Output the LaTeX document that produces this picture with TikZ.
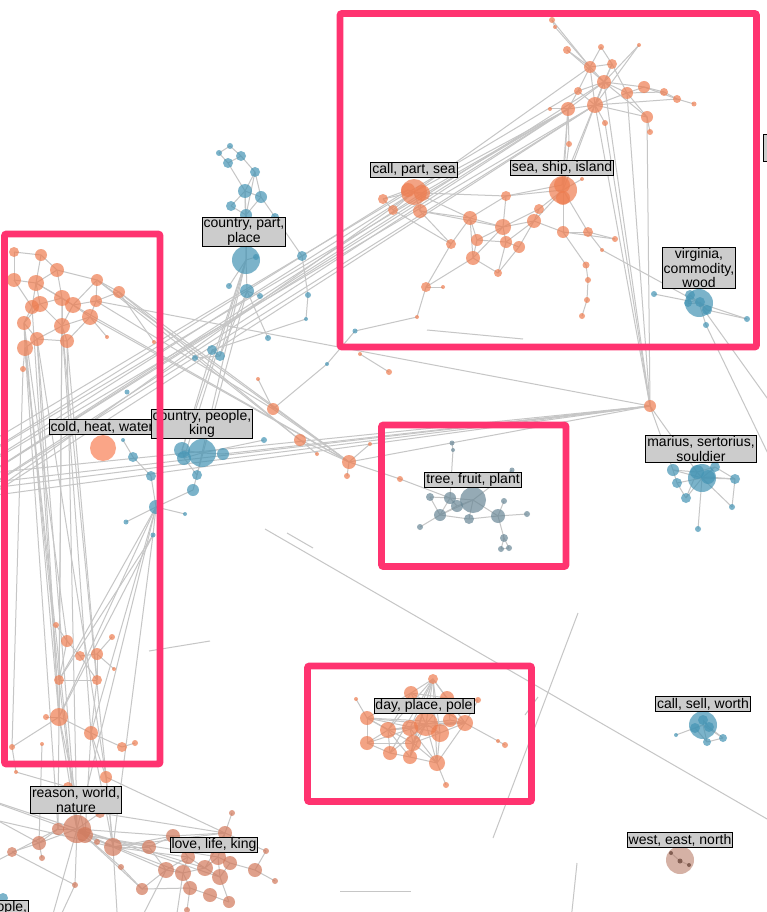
\documentclass[tikz,border=0pt]{standalone}
\usepackage{fontspec}
\newfontfamily\labfont{Liberation Sans}
\pgfdeclarelayer{bg}
\pgfdeclarelayer{fg}
\pgfsetlayers{bg,main,fg}
\definecolor{nor}{RGB}{238,125,80}
\definecolor{nbl}{RGB}{68,148,180}
\definecolor{ngr}{RGB}{105,135,150}
\definecolor{nbr}{RGB}{210,120,90}
\definecolor{nwe}{RGB}{185,125,105}
\definecolor{ncold}{RGB}{250,150,115}
\definecolor{pinkc}{RGB}{255,51,112}
\definecolor{edgec}{RGB}{198,198,198}
\definecolor{labc}{RGB}{204,204,204}
\tikzset{
  nd/.style={circle,inner sep=0pt,draw=none,minimum size={2*#1*1pt},fill opacity=0.7},
  ndo/.style={nd=#1,fill=nor},
  ndb/.style={nd=#1,fill=nbl},
  ndg/.style={nd=#1,fill=ngr},
  ndr/.style={nd=#1,fill=nbr},
  ndw/.style={nd=#1,fill=nwe,fill opacity=0.6},
  ndk/.style={nd=#1,fill=nwe!60!black,fill opacity=0.8},
  ndc/.style={nd=#1,fill=ncold,fill opacity=0.85},
  edge/.style={draw=edgec,line width=1pt},
  lab/.style={draw=black,line width=0.9pt,fill=labc,inner xsep=1.5pt,inner ysep=1.2pt,
    font=\labfont\fontsize{14}{14.2}\selectfont,align=center},
  pinkbox/.style={draw=pinkc,line width=6.8pt,rounded corners=2pt}
}
\begin{document}
\begin{tikzpicture}[x=1pt,y=-1pt]
\useasboundingbox (0,0) rectangle (766,912);
% ---------------- orange nodes
\foreach \n/\x/\y/\r in {
 t1/552/20/3, t2/555/27/2, t3/567/50/4, t4/601/47/3, t5/639/45/2, t6/590/67/6, t7/612/64/5,
 t8/604/82/7, t9/578/91/4, t10/627/93/6, t11/644/87/6, t12/664/92/4, t13/677/99/4, t14/694/104/2.5,
 t15/568/109/7, t16/595/105/8, t17/550/109/2, t18/647/117/6, t19/650/132/3, t20/605/123/3, t21/569/144/3,
 c1/414/192/13, c2/422/193/8, c3/408/190/7, c4/383/199/5, c5/393/210/5, c6/420/211/7,
 s1/563/190/14, s2/562/185/8, s3/563/198/7, s4/582/179/2,
 m1/506/196/5, m2/539/209/5, m3/534/221/7, m4/503/227/8, m5/470/218/7, m6/451/244/5, m7/477/240/6,
 m8/506/242/6, m9/519/247/6, m10/473/258/7, m11/498/273/4, m12/563/232/6, m13/588/232/5, m14/615/239/3,
 m15/602/250/2, m16/586/265/3.5, m17/588/280/3, m18/587/300/3, m19/582/316/3, m20/426/287/5,
 m21/443/287/2, m22/417/317/2,
 o1/650/406/6, o2/273/409/6, o3/300/440/6, o4/349/462/7, o5/347/476/3, o6/317/454/2, o7/370/444/2,
 o8/258/379/2, o9/400/479/3, o10/360/354/2, o11/389/372/3, o12/107/337/2, o13/154/342/2,
 l1/14/252/5, l2/41/255/6, l3/57/270/7, l4/14/280/7, l5/36/283/8, l6/97/280/6, l7/119/292/6,
 l8/62/298/8, l9/73/305/8, l10/40/304/8, l11/32/307/7, l12/96/301/6, l13/24/323/7, l14/62/326/8,
 l15/90/317/8, l16/37/339/7, l17/67/341/7, l18/25/348/8, l19/23/369/3,
 b1/56/625/3, b2/112/637/3, b3/67/641/6, b4/80/656/5, b5/97/654/6, b6/114/669/2, b7/59/680/5,
 b8/97/680/5, b9/46/717/3, b10/59/717/9, b11/91/733/7, b12/12/747/3, b13/42/744/2, b14/122/747/5,
 b15/135/743/3, b16/16/772/2, b17/106/777/6, b18/68/787/5,
 d1/433/679/5, d2/411/693/7, d3/447/698/7, d4/356/699/2, d5/478/700/3, d6/367/718/7, d7/388/730/8,
 d8/410/728/8, d9/426/724/12, d10/440/733/9, d11/450/720/7, d12/465/723/8, d13/413/743/8,
 d14/367/743/7, d15/390/753/7, d16/410/757/7, d17/437/763/8, d18/446/785/3, d19/498/741/2, d20/505/745/3}
 \node[ndo=\r] (\n) at (\x,\y) {};
% ---------------- brownish (reason / love)
\foreach \n/\x/\y/\r in {
 q1/77/829/14, q2/85/835/8, q3/58/829/6, q4/39/843/7, q5/113/847/9, q6/12/852/5, q7/42/858/3,
 q8/97/842/3, q9/121/867/3, q10/75/885/3, q11/149/847/7, q12/173/836/7, q13/225/833/7, q14/232/813/3,
 q15/255/870/7, q16/275/881/3, q17/266/851/3, q18/188/857/7, q19/166/870/8, q20/183/873/8,
 q21/205/868/8, q22/220/877/8, q23/218/857/8, q24/230/863/7, q25/190/888/7, q26/210/895/7,
 q27/229/902/6, q28/142/889/6, q29/187/910/3, q30/100/813/5}
 \node[ndr=\r] (\n) at (\x,\y) {};
% ---------------- blue nodes
\foreach \n/\x/\y/\r in {
 p1/230/146/3, p2/219/153/3, p3/241/156/5, p4/228/163/5, p5/255/172/5, p6/245/191/7, p7/261/197/6,
 p8/231/206/5, p9/246/215/6, p10/275/217/4, p11/246/260/14, p12/256/257/3, p13/229/286/3,
 p14/247/291/7, p15/260/296/3, p16/302/256/5, p17/308/295/3, p18/306/319/2, p19/268/338/3,
 p20/212/350/5, p21/220/356/5, p22/195/358/3, p23/127/392/2.5, p24/327/364/2, p25/355/331/2.5,
 k1/202/453/14, k2/182/450/8, k3/223/454/6, k4/184/458/7, k5/264/440/3, k6/123/440/2, k7/133/457/5,
 k8/151/476/5, k9/197/475/5, k10/193/490/6, k11/156/507/7, k12/185/514/2, k13/126/522/2.5, k14/153/535/2.5,
 v1/699/303/14, v2/690/295/5, v3/700/302/5, v4/707/310/5, v5/688/303/4, v6/654/294/3, v7/706/325/3, v8/747/319/3,
 r1/702/478/14, r2/697/472/7, r3/708/477/7, r4/673/470/6, r5/677/483/5, r6/686/498/5, r7/735/479/5,
 r8/732/507/3, r9/698/529/3, r10/715/467/5,
 w1/703/725/14, w2/703/720/5, w3/709/727/5, w4/695/728/5, w5/723/738/4, w6/707/742/4, w7/676/735/2,
 bb/3/898/5}
 \node[ndb=\r] (\n) at (\x,\y) {};
% ---------------- grey (tree cluster)
\foreach \n/\x/\y/\r in {
 g1/473/500/13, g2/452/443/2.5, g3/453/450/2, g4/512/470/2.5, g5/430/497/4, g6/450/498/6, g7/457/506/6,
 g8/440/515/6, g9/469/519/5, g10/498/516/7, g11/504/501/3, g12/527/514/3, g13/420/527/3, g14/504/538/4,
 g15/501/549/3, g16/509/548/3}
 \node[ndg=\r] (\n) at (\x,\y) {};
\node[ndc=13] (cw) at (103,448) {};
\node[ndw=14] (e1) at (680,860) {};
\node[ndk=2] (e2) at (671,853) {};
\node[ndk=2.5] (e3) at (680,861) {};
\node[ndk=2] (e4) at (689,865) {};
% ---------------- free ends (off-canvas / loose lines)
\foreach \n/\x/\y in {
 xa/-40/470, xb/-40/480, xc/-40/492, xd/-40/505, xe/-40/515, xf/-40/460,
 ya/-40/492, yb/-40/500, yc/-40/476, yd/-40/486,
 za/-40/790, zb/-40/800, zc/-40/812, zd/40/960, ze/120/960, zf/170/960, zg/-40/880,
 va/790/430, vb/800/520,
 s1a/265/529, s1b/800/838, s2a/287/533, s2b/313/548, s3a/578/613, s3b/493/838,
 s4a/538/697, s4b/525/715, s5a/577/863, s5b/570/930, s6a/340/891, s6b/411/891,
 s7a/149/651, s7b/210/641, s8a/427/330, s8b/523/339}
 \coordinate (\n) at (\x,\y);
% ---------------- edges
\begin{pgfonlayer}{bg}
\fill[white] (0,0) rectangle (766,912);
\foreach \a/\b in {
 t1/t2, t2/t6, t1/t6, t3/t6, t3/t8, t4/t6, t4/t7, t5/t8, t5/t16, t6/t7, t6/t8, t6/t9, t6/t16, t7/t8,
 t7/t10, t8/t9, t8/t10, t8/t16, t8/t15, t8/t11, t10/t11, t10/t12, t11/t12, t12/t13, t13/t14, t11/t13,
 t10/t18, t16/t18, t15/t16, t15/t17, t15/t9, t16/t9, t16/t20, t18/t19, t16/t10, t15/t21, t16/t13,
 t7/t16, t8/t18,
 c1/c2, c1/c3, c1/c4, c1/c5, c1/c6, c2/c6, c4/c5, c3/c4, c1/m5, c6/m5, c6/m4, c2/m1, c6/m6, c5/m6,
 m1/s1, m1/m4, m1/m5, m2/s1, m3/s1, m3/m2, m3/m4, m4/m5, m4/m7, m4/m8, m4/m10, m5/m7, m5/m10, m5/m6,
 m7/m8, m7/m10, m8/m9, m8/m3, m9/m3, m9/m11, m10/m11, m6/m20, m10/m20, m20/m21, m20/m22, s1/m12,
 s1/m13, s3/m12, m12/m13, m12/m14, m13/m14, m12/m16, m16/m17, m17/m18, m18/m19, m3/m12, s1/s4,
 s1/t15, s1/t16, s2/t15, t21/s1, m2/m4, s2/m1, s2/t8, c2/t15, c1/t15, m15/v1, m13/m15, m11/m8,
 t15/xa, t16/xb, t8/xc, t15/xd, t6/xe, c1/xb, c2/xc, t15/xc, t16/xd, t9/xf, c3/xa, t16/xe,
 o1/t16, o1/t8, o1/t18, o1/t20, o1/t10, o1/r2, o1/r4, o1/ya, o1/yb, o1/yc, o1/yd, o1/k3, o1/o4,
 v1/v2, v1/v3, v1/v4, v1/v5, v1/v6, v1/v7, v1/v8, v4/v8, v2/v5, v3/v4, v1/va, v7/vb,
 l1/l2, l1/l4, l2/l3, l2/l5, l3/l5, l3/l8, l3/l6, l4/l5, l4/l11, l5/l8, l5/l10, l5/l11, l6/l7, l6/l12,
 l6/l9, l7/l12, l8/l9, l8/l10, l8/l14, l9/l12, l9/l15, l9/l14, l10/l11, l10/l13, l11/l13, l12/l15,
 l13/l16, l13/l18, l14/l15, l14/l17, l14/l16, l15/l17, l16/l18, l16/l17, l18/l19, l10/l14, l5/l9,
 l7/o4, l6/o3, l15/o4, l12/o2, l7/o3, l9/o4, l6/o4, l15/o12, l7/o13, l12/o1,
 o2/o8, o2/p24, o2/o4, o3/o4, o4/o5, o4/o7, o3/o6, o4/o9, o9/g6, o10/o11, p24/p25, p25/m22,
 l13/b10, l16/b10, l18/b7, l14/b7, l17/q1, l16/q1, l18/q1, l13/b3, l11/b10, l19/b12, l16/b17,
 l14/b11, l8/b10, l18/q3, l17/b8, l14/q5,
 p1/p2, p1/p3, p2/p4, p3/p4, p3/p5, p4/p6, p5/p6, p5/p7, p6/p7, p6/p8, p6/p9, p7/p9, p8/p9, p7/p10,
 p5/p9, p9/p11, p6/p11, p10/p16, p11/p12, p11/p14, p11/p13, p14/p15, p16/p17, p17/p18, p18/p20,
 p20/p21, p21/p22, p11/p21, p14/p21, p19/p14,
 k1/k2, k1/k3, k1/k4, k2/k4, k1/k9, k4/k9, k9/k10, k10/k11, k8/k11, k7/k8, k6/k7, k11/k12, k11/k13,
 k11/k14, k1/k5, k2/p11, k1/p11, k4/p11, k9/p14, k2/p20, k11/b10, k11/q1, k14/b7, k11/b11, k14/q5,
 k14/b10, k11/b7,
 g2/g3, g3/g6, g1/g6, g1/g7, g1/g9, g1/g10, g1/g4, g5/g6, g5/g8, g6/g7, g7/g8, g8/g9, g9/g10,
 g10/g11, g10/g12, g10/g14, g14/g15, g14/g16, g15/g16, g8/g13, g1/g8, g6/g8,
 r1/r2, r1/r3, r1/r4, r1/r5, r1/r6, r1/r7, r1/r10, r2/r4, r2/r10, r3/r7, r4/r5, r5/r6, r7/r8,
 r1/r8, r1/r9, r6/r2, r10/r7,
 w1/w2, w1/w3, w1/w4, w1/w5, w1/w6, w1/w7, w5/w6, w4/w6, w2/w3, w3/w5,
 d1/d2, d1/d3, d1/d7, d1/d8, d1/d9, d1/d10, d1/d12, d1/d13, d1/d15, d1/d16, d1/d17, d2/d3, d2/d6,
 d2/d7, d2/d9, d3/d9, d3/d11, d3/d12, d4/d6, d5/d12, d5/d3, d6/d7, d6/d14, d6/d9, d6/d10, d6/d13,
 d7/d8, d7/d14, d7/d15, d7/d16, d7/d9, d8/d9, d8/d13, d8/d17, d9/d10, d9/d11, d9/d12, d9/d13,
 d9/d15, d9/d16, d9/d17, d10/d12, d10/d13, d10/d17, d11/d12, d12/d17, d12/d19, d19/d20, d13/d16,
 d13/d17, d14/d15, d14/d13, d15/d16, d16/d17, d17/d18, d14/d9, d6/d12, d2/d12, d7/d12,
 b1/b3, b3/b4, b4/b5, b2/b5, b5/b6, b5/b8, b3/b7, b4/b8, b7/b10, b8/b11, b7/b8, b9/b10, b10/b11,
 b10/q1, b11/b14, b14/b15, b11/q5, b12/b10, b13/q4, b16/b18, b17/q5, b10/q3, b10/q2, b11/q2,
 b18/q1, b7/q1, b12/b16, b17/b11, b17/q13,
 q1/q2, q1/q3, q1/q4, q1/q5, q1/q8, q1/q30, q2/q5, q3/q4, q4/q6, q4/q7, q1/q9, q1/q10, q5/q11,
 q5/q12, q11/q12, q11/q19, q12/q18, q12/q13, q13/q14, q13/q23, q13/q21, q18/q19, q18/q20, q18/q21,
 q19/q20, q20/q21, q21/q22, q21/q23, q22/q23, q22/q24, q23/q24, q24/q15, q15/q16, q15/q17, q17/q13,
 q20/q25, q25/q26, q26/q27, q22/q27, q28/q19, q28/q25, q25/q29, q1/q28, q5/q19, q5/q18, q2/q11,
 q1/q12, q6/q10, q9/q28, q2/q20, q1/q21, q2/q23, q5/q13, q30/q13, q1/q22,
 q1/za, q4/zb, q5/zc, q2/za, q3/zg, q1/zd, q5/ze, q20/zf, q10/zd, q19/ze,
 e2/e3, e3/e4,
 s1a/s1b, s2a/s2b, s3a/s3b, s4a/s4b, s5a/s5b, s6a/s6b, s7a/s7b, s8a/s8b}
 \draw[edge] (\a.center) -- (\b.center);
\end{pgfonlayer}
% ---------------- labels and highlight boxes
\begin{pgfonlayer}{fg}
\node[lab] (lcps) at (414,170) {call, part, sea};
\node[lab] (lssi) at (562,168) {sea, ship, island};
\node[lab] (lvcw) at (699,268) {virginia,\\commodity,\\wood};
\node[lab] (lcpp) at (244,232) {country, part,\\place};
\node[lab] (lchw) at (102,427) {cold, heat, water};
\node[lab] (lcpk) at (202,424) {country, people,\\king};
\node[lab] (ltfp) at (473,480) {tree, fruit, plant};
\node[lab] (lmss) at (701,449) {marius, sertorius,\\souldier};
\node[lab] (ldpp) at (424,706) {day, place, pole};
\node[lab] (lcsw) at (703,704) {call, sell, worth};
\node[lab] (lrwn) at (76,800) {reason, world,\\nature};
\node[lab] (lllk) at (214,845) {love, life, king};
\node[lab] (lwen) at (680,840) {west, east, north};
\node[lab,anchor=north east] (lpeo) at (29,900) {ople,};
\node[draw=black,line width=0.9pt,fill=labc,minimum width=12pt,minimum height=27pt,inner sep=0pt] (lcut) at (769,148) {};
\draw[pinkbox] (340,13.5) rectangle (756.5,347);
\draw[pinkbox] (4.5,234) rectangle (160,764);
\draw[pinkbox] (381.5,425) rectangle (566,566.5);
\draw[pinkbox] (307.5,666) rectangle (531.5,801.5);
\end{pgfonlayer}
\end{tikzpicture}
\end{document}
